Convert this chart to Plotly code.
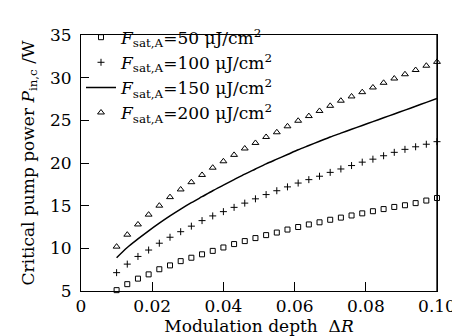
import plotly.graph_objects as go

depth = [0.010, 0.013, 0.016, 0.019, 0.022, 0.025, 0.028, 0.031, 0.034, 0.037,
         0.040, 0.043, 0.046, 0.049, 0.052, 0.055, 0.058, 0.061, 0.064, 0.067,
         0.070, 0.073, 0.076, 0.079, 0.082, 0.085, 0.088, 0.091, 0.094, 0.097, 0.100]

p_50 = [5.1, 5.8, 6.45, 6.95, 7.55, 8.0, 8.5, 8.9, 9.3, 9.7,
        10.1, 10.5, 10.85, 11.2, 11.55, 11.85, 12.2, 12.5, 12.8, 13.05,
        13.35, 13.6, 13.85, 14.1, 14.35, 14.6, 14.85, 15.05, 15.3, 15.6, 15.9]

p_100 = [7.15, 8.15, 9.05, 9.8, 10.6, 11.3, 11.95, 12.6, 13.25, 13.8,
         14.3, 14.8, 15.3, 15.8, 16.3, 16.75, 17.2, 17.65, 18.05, 18.45,
         18.9, 19.3, 19.7, 20.1, 20.45, 20.85, 21.25, 21.6, 21.9, 22.2, 22.5]

p_150 = [8.9, 10.1, 11.1, 12.05, 12.95, 13.8, 14.6, 15.35, 16.05, 16.75,
         17.4, 18.05, 18.7, 19.3, 19.9, 20.45, 21.0, 21.55, 22.05, 22.55,
         23.05, 23.5, 23.95, 24.4, 24.85, 25.3, 25.75, 26.2, 26.65, 27.1, 27.55]

p_200 = [10.2, 11.6, 12.8, 13.95, 15.0, 16.0, 16.9, 17.75, 18.6, 19.45,
         20.2, 20.95, 21.7, 22.35, 23.05, 23.6, 24.3, 24.95, 25.5, 26.1,
         26.7, 27.3, 27.8, 28.3, 28.85, 29.4, 29.9, 30.4, 30.9, 31.4, 31.85]

series_names = [
    "<i>F</i><sub>sat,A</sub>=50 μJ/cm<sup>2</sup>",
    "<i>F</i><sub>sat,A</sub>=100 μJ/cm<sup>2</sup>",
    "<i>F</i><sub>sat,A</sub>=150 μJ/cm<sup>2</sup>",
    "<i>F</i><sub>sat,A</sub>=200 μJ/cm<sup>2</sup>",
]

x_tickvals = [0, 0.02, 0.04, 0.06, 0.08, 0.10]
x_ticktext = ["0", "0.02", "0.04", "0.06", "0.08", "0.10"]
y_tickvals = [5, 10, 15, 20, 25, 30, 35]
y_ticktext = ["5", "10", "15", "20", "25", "30", "35"]

FONT = "DejaVu Serif"

fig = go.Figure()
fig.add_trace(go.Scatter(x=depth, y=p_50, mode="markers", name=series_names[0],
                         marker=dict(symbol="square-open", size=5, color="black",
                                     line=dict(width=1, color="black")),
                         cliponaxis=False))
fig.add_trace(go.Scatter(x=depth, y=p_100, mode="markers", name=series_names[1],
                         marker=dict(symbol="cross-thin", size=5, color="black",
                                     line=dict(width=1, color="black")),
                         cliponaxis=False))
fig.add_trace(go.Scatter(x=depth, y=p_150, mode="lines", name=series_names[2],
                         line=dict(color="black", width=1.5, shape="spline", smoothing=0.8)))
fig.add_trace(go.Scatter(x=depth, y=p_200, mode="markers", name=series_names[3],
                         marker=dict(symbol="triangle-up-open", size=6, color="black",
                                     line=dict(width=1, color="black")),
                         cliponaxis=False))

fig.update_layout(
    width=460, height=336,
    margin=dict(l=73, r=24, t=16, b=53),
    paper_bgcolor="white", plot_bgcolor="white",
    font=dict(family=FONT, size=17, color="black"),
    showlegend=True,
    legend=dict(x=0.0, y=1.06, xanchor="left", yanchor="top",
                bgcolor="rgba(0,0,0,0)", font=dict(family=FONT, size=17),
                tracegroupgap=0, itemwidth=30),
    xaxis=dict(range=[0, 0.1], tickvals=x_tickvals, ticktext=x_ticktext,
               ticks="inside", ticklen=9, tickcolor="black", tickwidth=1,
               showline=True, linecolor="black", linewidth=1, mirror=True,
               showgrid=False, zeroline=False,
               tickfont=dict(family=FONT, size=17),
               title=dict(text="Modulation depth  Δ<i>R</i>",
                          font=dict(family=FONT, size=17), standoff=2)),
    yaxis=dict(range=[5, 35], tickvals=y_tickvals, ticktext=y_ticktext,
               ticks="inside", ticklen=8, tickcolor="black", tickwidth=1,
               ticklabelstandoff=5,
               showline=True, linecolor="black", linewidth=1, mirror=True,
               showgrid=False, zeroline=False,
               tickfont=dict(family=FONT, size=17),
               title=dict(text="Critical pump power <i>P</i><sub>in,c</sub> /W",
                          font=dict(family=FONT, size=17), standoff=11)),
    shapes=[dict(type="line", xref="paper", yref="paper", x0=1, x1=1, y0=0, y1=1,
                 line=dict(color="#555555", width=2), layer="below")],
)

fig.write_html("out.html")
